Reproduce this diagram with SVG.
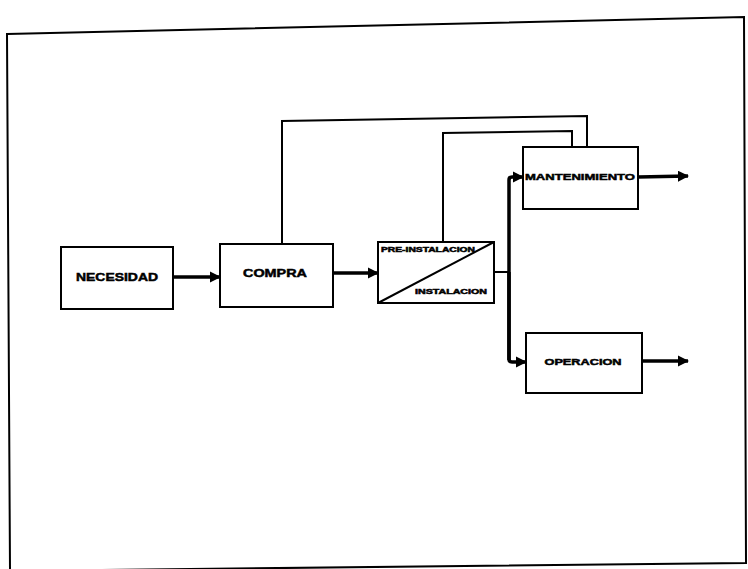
<svg xmlns="http://www.w3.org/2000/svg" width="748" height="569" viewBox="0 0 748 569">
<defs>
<style>
.box{fill:#fff;stroke:#000;stroke-width:2}
.ln{fill:none;stroke:#000;stroke-width:2}
.th{fill:none;stroke:#000;stroke-width:3.5}
.t{font-family:"Liberation Sans",Arial,sans-serif;font-weight:bold;fill:#000;stroke:#000;stroke-width:0.5;text-anchor:middle}
</style>
<marker id="ah" viewBox="0 0 10 10" refX="9" refY="5" markerWidth="3.2" markerHeight="3.2" orient="auto" markerUnits="strokeWidth">
<path d="M0,0 L10,5 L0,10 z" fill="#000"/>
</marker>
</defs>
<rect width="748" height="569" fill="#fff"/>
<polygon points="7,34 744,17 746,563 10,571" fill="none" stroke="#000" stroke-width="2"/>
<g id="connectors">
<path class="th" d="M173,277 L220,277" marker-end="url(#ah)"/>
<path class="th" d="M333,273 L378,273" marker-end="url(#ah)"/>
<path class="ln" d="M282,244 L282,121 L587,116 L587,147"/>
<path class="ln" d="M443,242 L443,133 L572,131 L572,147"/>
<path class="ln" d="M494,272 L509,272"/>
<path class="th" d="M509,360 L509,180 Q509,177 512,177 L523,177" marker-end="url(#ah)"/>
<path class="th" d="M509,272 L509,359 Q509,362 512,362 L526,362" marker-end="url(#ah)"/>
<path class="th" d="M638,177 L688,176" marker-end="url(#ah)"/>
<path class="th" d="M642,361 L688,361" marker-end="url(#ah)"/>
</g>
<g id="necesidad">
<rect class="box" x="61" y="247" width="112" height="62"/>
<text class="t" x="117" y="281" font-size="11.5" textLength="82" lengthAdjust="spacingAndGlyphs">NECESIDAD</text>
</g>
<g id="compra">
<rect class="box" x="220" y="244" width="113" height="63"/>
<text class="t" x="275" y="277" font-size="11.5" textLength="64" lengthAdjust="spacingAndGlyphs">COMPRA</text>
</g>
<g id="instalacion">
<rect class="box" x="378" y="242" width="116" height="61"/>
<line class="ln" x1="378" y1="303" x2="494" y2="242"/>
<text class="t" x="428" y="252" font-size="7" textLength="94" lengthAdjust="spacingAndGlyphs">PRE-INSTALACION</text>
<text class="t" x="451" y="294" font-size="7" textLength="72" lengthAdjust="spacingAndGlyphs">INSTALACION</text>
</g>
<g id="mantenimiento">
<rect class="box" x="523" y="147" width="115" height="62"/>
<text class="t" x="580" y="180" font-size="9.5" textLength="110" lengthAdjust="spacingAndGlyphs">MANTENIMIENTO</text>
</g>
<g id="operacion">
<rect class="box" x="526" y="333" width="116" height="60"/>
<text class="t" x="583" y="365" font-size="9" textLength="77" lengthAdjust="spacingAndGlyphs">OPERACION</text>
</g>
</svg>
